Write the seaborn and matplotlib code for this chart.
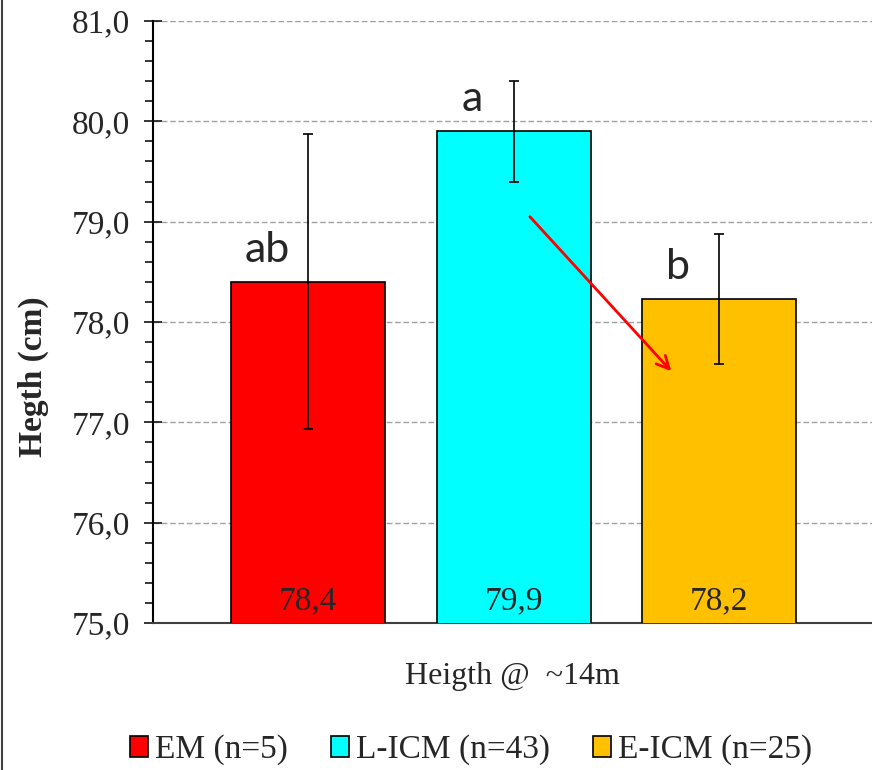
import matplotlib
matplotlib.use("Agg")
import matplotlib.pyplot as plt
from matplotlib.lines import Line2D
from matplotlib.patches import Patch
from matplotlib.ticker import MultipleLocator, FuncFormatter
import seaborn as sns
import pandas as pd

# Data
groups = ["EM", "L-ICM", "E-ICM"]
legend_labels = ["EM (n=5)", "L-ICM (n=43)", "E-ICM (n=25)"]
heights = [78.4, 79.9, 78.23]
sd = [1.47, 0.5, 0.65]
letters = ["ab", "a", "b"]
value_labels = ["78,4", "79,9", "78,2"]
colors = ["#FF0000", "#00FFFF", "#FFC000"]

sns.set_style("white")
plt.rcParams["font.family"] = ["Liberation Serif", "DejaVu Serif"]

df = pd.DataFrame({"group": groups, "height": heights})

fig = plt.figure(figsize=(8.72, 7.70), dpi=100)
ax = fig.add_axes([0.1755, 0.1909, 1.0 - 0.1755, 0.9727 - 0.1909])

sns.barplot(data=df, x="group", y="height", hue="group", palette=colors,
            saturation=1, width=0.75, errorbar=None, edgecolor="black",
            linewidth=1.2, legend=False, ax=ax, zorder=3)
ax.errorbar(range(len(groups)), heights, yerr=sd, fmt="none", ecolor="black",
            elinewidth=1.2, capsize=3.6, capthick=1.2, zorder=4)

ax.set_ylim(75, 81)
ax.set_xlim(-0.755, 2.744)
ax.yaxis.set_major_locator(MultipleLocator(1))
ax.yaxis.set_minor_locator(MultipleLocator(0.2))
ax.yaxis.set_major_formatter(FuncFormatter(lambda v, p: f"{v:.1f}".replace(".", ",")))
ax.tick_params(axis="y", which="major", direction="inout", length=13, width=1.3,
               labelsize=24, pad=10, left=True)
ax.tick_params(axis="y", which="minor", direction="out", length=6, width=1.3, left=True)
ax.set_xticks([])
ax.grid(axis="y", which="major", linestyle=(0, (4, 2)), color="#a0a0a0", linewidth=1, zorder=0)
ax.set_axisbelow(True)

for s in ["top", "right"]:
    ax.spines[s].set_visible(False)
ax.spines["left"].set_color("black")
ax.spines["left"].set_linewidth(1.5)
ax.spines["bottom"].set_color("#404040")
ax.spines["bottom"].set_linewidth(1.5)

for i, h in enumerate(heights):
    ax.text(i, 75.14, value_labels[i], ha="center", va="baseline", fontsize=24, zorder=5)
    ax.text(i - 0.2, h + 0.2, letters[i], ha="center", va="baseline", fontsize=31,
            family=["Lato", "DejaVu Sans"], zorder=5)

ax.annotate("", xy=(1.776, 77.49), xytext=(1.07, 79.07),
            arrowprops=dict(arrowstyle="->,head_length=0.9,head_width=0.45",
                            color="#FF0000", lw=2), zorder=6)

ax.set_xlabel("Heigth @  ~14m", fontsize=23, labelpad=28)
ax.set_ylabel("Hegth (cm)", fontsize=24, fontweight="bold")
ax.yaxis.set_label_coords(-0.145, 0.41)

handles = [Patch(facecolor=c, edgecolor="black", linewidth=1.2) for c in colors]
fig.legend(handles, legend_labels, loc="center", bbox_to_anchor=(0.54, 0.026),
           ncol=3, frameon=False, fontsize=24, handlelength=0.55, handleheight=0.6,
           handletextpad=0.2, columnspacing=1.3)

fig.add_artist(Line2D([0.0025, 0.0025], [0, 1], transform=fig.transFigure,
                      color="#404040", linewidth=1.5))

fig.savefig("out.png", dpi=100)
